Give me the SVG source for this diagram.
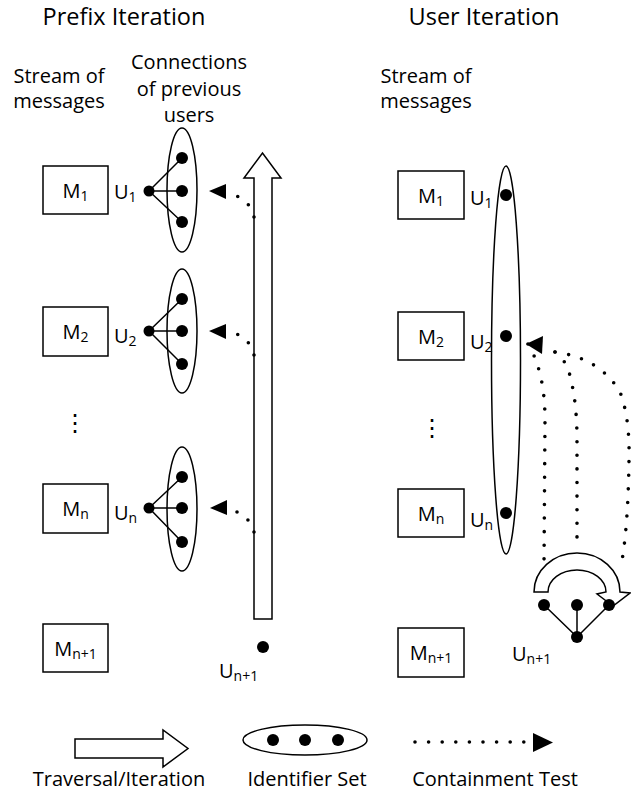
<svg xmlns="http://www.w3.org/2000/svg" width="631" height="794" viewBox="0 0 631 794">
<style>
.t{font-family:"Open Sans","Liberation Sans",sans-serif;font-size:20px;fill:#000}
.title{font-size:23.5px}
.sub{font-size:14px}
.c{text-anchor:middle}
.box{fill:#fff;stroke:#000;stroke-width:1.5}
.ln{fill:none;stroke:#000;stroke-width:1.5}
.shape{fill:#fff;stroke:#000;stroke-width:1.5}
.d{fill:#000}
.dotted{fill:none;stroke:#000;stroke-width:3.6;stroke-linecap:round;stroke-dasharray:0 13.6}
.dots2{fill:none;stroke:#000;stroke-width:3.6;stroke-linecap:round;stroke-dasharray:0 13.5}
.vel{font-family:"DejaVu Sans",sans-serif;font-size:24px;text-anchor:middle}
</style>

<!-- Titles and headers -->
<g id="titles">
<text class="t title c" x="124" y="25">Prefix Iteration</text>
<text class="t title c" x="484" y="25">User Iteration</text>
<text class="t c" x="59" y="83">Stream of</text>
<text class="t c" x="59" y="108">messages</text>
<text class="t c" x="189" y="69">Connections</text>
<text class="t c" x="189" y="96">of previous</text>
<text class="t c" x="189" y="122">users</text>
<text class="t c" x="426" y="83">Stream of</text>
<text class="t c" x="426" y="108">messages</text>
</g>

<!-- Left: message boxes -->
<g id="L-M1"><rect class="box" x="43" y="166" width="65" height="48"/><text class="t c" x="75.5" y="198">M<tspan class="sub" dy="3">1</tspan></text></g>
<g id="L-M2"><rect class="box" x="43" y="307" width="65" height="49"/><text class="t c" x="75.5" y="339">M<tspan class="sub" dy="3">2</tspan></text></g>
<g id="L-dots"><text class="vel" x="75" y="431">⋮</text></g>
<g id="L-Mn"><rect class="box" x="43" y="484" width="65" height="49"/><text class="t c" x="75.5" y="516">M<tspan class="sub" dy="3">n</tspan></text></g>
<g id="L-Mn1"><rect class="box" x="43" y="624" width="65" height="48"/><text class="t c" x="75.5" y="656">M<tspan class="sub" dy="3">n+1</tspan></text></g>

<!-- Left: user connection sets -->
<g id="L-U1">
<text class="t" x="114" y="199">U<tspan class="sub" dy="3">1</tspan></text>
<ellipse class="ln" cx="182" cy="190" rx="15" ry="62"/>
<path class="ln" d="M149 191 L182 158 M149 191 L182 191 M149 191 L182 222"/>
<circle class="d" cx="149" cy="191" r="5.5"/>
<circle class="d" cx="182" cy="158" r="6"/><circle class="d" cx="182" cy="191" r="6"/><circle class="d" cx="182" cy="222" r="6"/>
</g>
<g id="L-U2">
<text class="t" x="114" y="343">U<tspan class="sub" dy="3">2</tspan></text>
<ellipse class="ln" cx="182" cy="331" rx="15" ry="62"/>
<path class="ln" d="M149 331 L182 299 M149 331 L182 331 M149 331 L182 364"/>
<circle class="d" cx="149" cy="331" r="5.5"/>
<circle class="d" cx="182" cy="299" r="6"/><circle class="d" cx="182" cy="331" r="6"/><circle class="d" cx="182" cy="364" r="6"/>
</g>
<g id="L-Un">
<text class="t" x="114" y="520">U<tspan class="sub" dy="3">n</tspan></text>
<ellipse class="ln" cx="182" cy="509" rx="15" ry="62"/>
<path class="ln" d="M149 508 L182 477 M149 508 L182 508 M149 508 L182 542"/>
<circle class="d" cx="149" cy="508" r="5.5"/>
<circle class="d" cx="182" cy="477" r="6"/><circle class="d" cx="182" cy="508" r="6"/><circle class="d" cx="182" cy="542" r="6"/>
</g>
<g id="L-Un1">
<circle class="d" cx="263" cy="647" r="6"/>
<text class="t" x="219" y="678">U<tspan class="sub" dy="3">n+1</tspan></text>
</g>

<!-- Left: traversal arrow -->
<g id="L-traversal">
<path class="shape" d="M254 619 L254 178 L244 178 L262.5 153 L281 178 L272 178 L272 619 Z"/>
</g>

<!-- Right: message boxes -->
<g id="R-M1"><rect class="box" x="398" y="171" width="66" height="48"/><text class="t c" x="431" y="203">M<tspan class="sub" dy="3">1</tspan></text></g>
<g id="R-M2"><rect class="box" x="398" y="312" width="66" height="48"/><text class="t c" x="431" y="344">M<tspan class="sub" dy="3">2</tspan></text></g>
<g id="R-dots"><text class="vel" x="432" y="436">⋮</text></g>
<g id="R-Mn"><rect class="box" x="398" y="489" width="66" height="48"/><text class="t c" x="431" y="521">M<tspan class="sub" dy="3">n</tspan></text></g>
<g id="R-Mn1"><rect class="box" x="398" y="628" width="66" height="49"/><text class="t c" x="431" y="660">M<tspan class="sub" dy="3">n+1</tspan></text></g>

<!-- Right: user set -->
<g id="R-userset">
<ellipse class="ln" cx="506" cy="360" rx="14.5" ry="194"/>
<circle class="d" cx="506" cy="195" r="6"/>
<circle class="d" cx="506" cy="336" r="6"/>
<circle class="d" cx="506" cy="513" r="6"/>
<text class="t" x="470" y="205">U<tspan class="sub" dy="3">1</tspan></text>
<text class="t" x="470" y="349">U<tspan class="sub" dy="3">2</tspan></text>
<text class="t" x="470" y="527">U<tspan class="sub" dy="3">n</tspan></text>
</g>

<!-- Right: new user with connections and iteration arc -->
<g id="R-Un1">
<path class="shape" d="M534 592 A43 39 0 0 1 620 592 L630 593 L613 606 L597 594 L606 592 A29 22 0 0 0 548 592 Z"/>
<path class="ln" d="M577 637 L544 605 M577 637 L577 605 M577 637 L609 605"/>
<circle class="d" cx="544" cy="605" r="6"/>
<circle class="d" cx="577" cy="605" r="6"/>
<circle class="d" cx="609" cy="605" r="6"/>
<circle class="d" cx="577" cy="637" r="6"/>
<text class="t" x="512" y="661">U<tspan class="sub" dy="3">n+1</tspan></text>
</g>

<!-- Connectors (containment tests) -->
<g id="connectors">
<path class="dots2" d="M254 217 L248 204 L237 196"/>
<polygon class="d" points="209,191 226,184 226,199"/>
<path class="dots2" d="M254 355 L248 342 L237 334"/>
<polygon class="d" points="209,331 226,324 226,339"/>
<path class="dots2" d="M254 532 L248 520 L237 512"/>
<polygon class="d" points="210,508 227,500 227,515"/>
<path class="dotted" d="M528 344 Q545 372 545 420 L544 566"/>
<path class="dotted" d="M555 352 Q567 360 571 380 Q577 405 577 440 L577 543"/>
<path class="dotted" d="M555 352 Q600 358 620 392 Q630 418 629 460 Q628 530 621 566"/>
<polygon class="d" points="526,344 543,336 542,354"/>
</g>

<!-- Legend -->
<g id="legend-traversal">
<path class="shape" d="M75 739 L163 739 L163 730 L188 748.5 L163 767 L163 758 L75 758 Z"/>
<text class="t c" x="119" y="786">Traversal/Iteration</text>
</g>
<g id="legend-set">
<ellipse class="ln" cx="305" cy="740" rx="62" ry="15"/>
<circle class="d" cx="273" cy="740" r="6"/><circle class="d" cx="305" cy="740" r="6"/><circle class="d" cx="338" cy="740" r="6"/>
<text class="t c" x="307" y="786">Identifier Set</text>
</g>
<g id="legend-test">
<path class="dotted" d="M415 742 L533 742"/>
<polygon class="d" points="533,733 553,742.5 533,752"/>
<text class="t c" x="495" y="786">Containment Test</text>
</g>
</svg>
